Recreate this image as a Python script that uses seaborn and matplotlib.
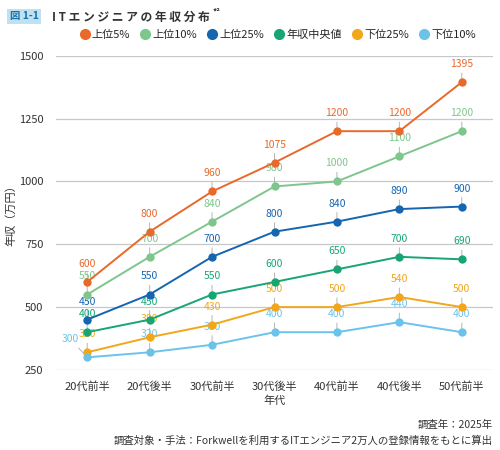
import numpy as np
import pandas as pd
import matplotlib
matplotlib.use('Agg')
import matplotlib.pyplot as plt
import seaborn as sns
from matplotlib.lines import Line2D

ages = ['20代前半', '20代後半', '30代前半', '30代後半', '40代前半', '40代後半', '50代前半']
series_names = ['上位5%', '上位10%', '上位25%', '年収中央値', '下位25%', '下位10%']
top5 = [600, 800, 960, 1075, 1200, 1200, 1395]
top10 = [550, 700, 840, 980, 1000, 1100, 1200]
top25 = [450, 550, 700, 800, 840, 890, 900]
median = [400, 450, 550, 600, 650, 700, 690]
low25 = [320, 380, 430, 500, 500, 540, 500]
low10 = [300, 320, 350, 400, 400, 440, 400]
colors = ['#E8692A', '#7EC68C', '#1565B0', '#17A673', '#F2A71B', '#6CC3EA']

values = [top5, top10, top25, median, low25, low10]
rows = []
for name, vals in zip(series_names, values):
    for a, v in zip(ages, vals):
        rows.append({'年代': a, '年収': v, '区分': name})
df = pd.DataFrame(rows)

sns.set_style('white')
FONT = ['Noto Sans CJK JP', 'DejaVu Sans']
plt.rcParams['font.family'] = FONT

fig = plt.figure(figsize=(5, 4.5), dpi=100)
ax = fig.add_axes([0.112, 0.178, 0.874, 0.698])

sns.lineplot(data=df, x='年代', y='年収', hue='区分', palette=colors,
             marker='o', markersize=6, markeredgewidth=0, linewidth=1.4,
             legend=False, ax=ax, sort=False, zorder=3)

# 値ラベル（引き出し線つき）
for vals, c in zip(values, colors):
    for i, v in enumerate(vals):
        off = (0, 13)
        if c == colors[5] and i == 0:
            off = (-12, 13)
        ax.annotate(str(v), xy=(i, v), xytext=off, textcoords='offset points',
                    ha='center', va='center', fontsize=7.5, color=c, zorder=2,
                    arrowprops=dict(arrowstyle='-', color='#b5b5b5', lw=0.7,
                                    shrinkA=0.5, shrinkB=0))

ax.set_xlim(-0.5, 6.5)
ax.set_ylim(250, 1500)
ax.set_yticks([250, 500, 750, 1000, 1250, 1500])
ax.grid(axis='y', color='#c8c8c8', lw=0.9)
ax.grid(axis='x', visible=False)
ax.set_axisbelow(True)
for s in ax.spines.values():
    s.set_visible(False)
ax.tick_params(axis='y', length=0, pad=9, labelsize=8, labelcolor='#333333')
ax.tick_params(axis='x', length=0, pad=8, labelsize=8, labelcolor='#333333')
ax.set_xlabel('年代', fontsize=8, color='#333333', labelpad=3)
ax.set_ylabel('年収（万円）', fontsize=8, color='#333333', labelpad=2)

# 凡例
handles = [Line2D([], [], marker='o', linestyle='', color=c, markersize=7) for c in colors]
fig.legend(handles, series_names, loc='center', bbox_to_anchor=(0.555, 0.922), ncol=6,
           frameon=False, fontsize=8, handletextpad=0.15, columnspacing=0.85,
           handlelength=1.0)

# タイトル
fig.text(0.02, 0.975, '図 1-1', fontsize=7.5, fontweight='bold', color='#1E6FA8',
         va='top', ha='left', style='italic',
         bbox=dict(boxstyle='square,pad=0.25', fc='#BDE2F4', ec='none'))
fig.text(0.105, 0.975, ' '.join('ITエンジニアの年収分布'), fontsize=8.5, fontweight='bold',
         color='#333333', va='top', ha='left')
fig.text(0.425, 0.982, '*²', fontsize=6, fontweight='bold', color='#333333', va='top')

# 注記
fig.text(0.986, 0.055, '調査年：2025年', fontsize=7.5, color='#333333', ha='right', va='center')
fig.text(0.986, 0.02, '調査対象・手法：Forkwellを利用するITエンジニア2万人の登録情報をもとに算出',
         fontsize=7.5, color='#333333', ha='right', va='center')

fig.savefig('out.png', dpi=100)
